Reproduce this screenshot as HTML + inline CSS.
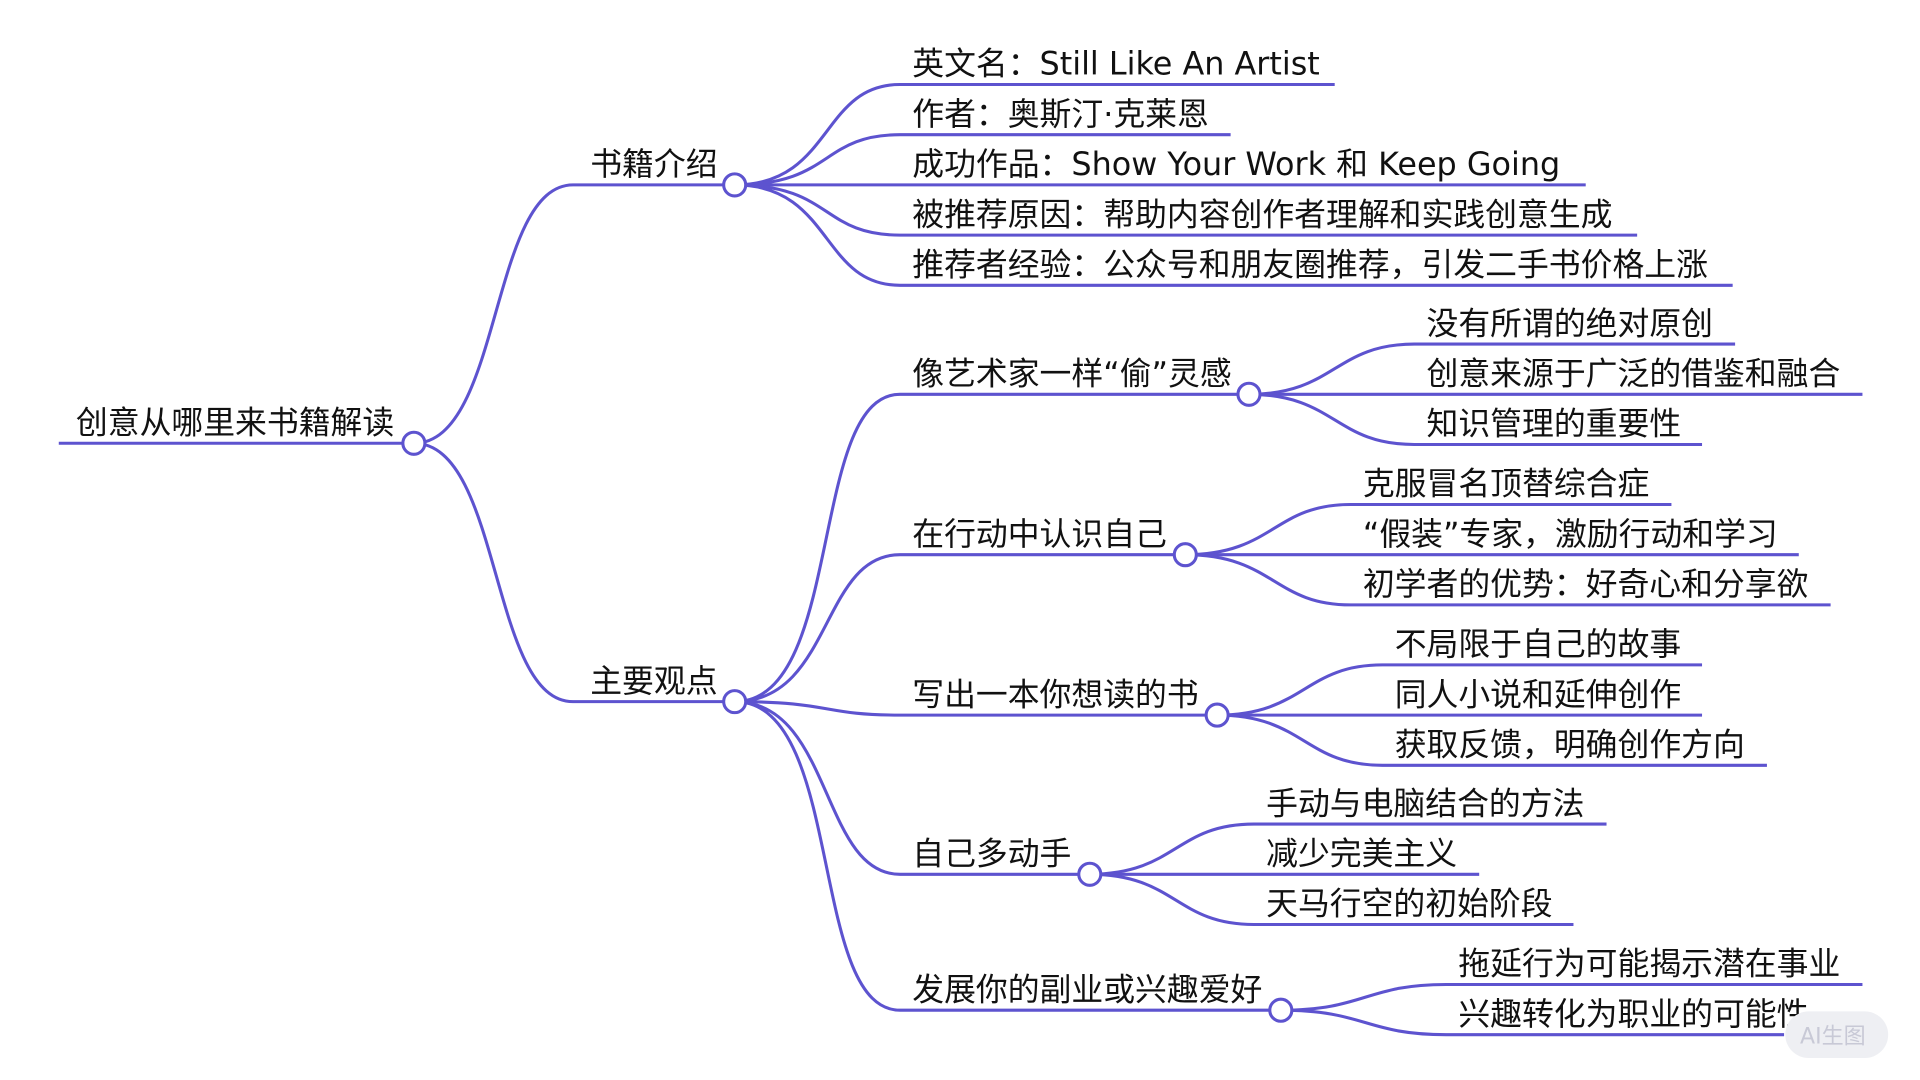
<!DOCTYPE html>
<html><head><meta charset="utf-8"><style>
html,body{margin:0;padding:0;background:#fff;width:1920px;height:1080px;overflow:hidden}
svg{display:block}
text{font-family:"DejaVu Sans","Noto Sans CJK SC",sans-serif;font-size:26px;fill:#111}
</style></head><body>
<svg width="1920" height="1080" viewBox="0 0 1568 882" preserveAspectRatio="none">
<g fill="none" stroke="#5d53cf" stroke-width="2.5">
<path d="M48,362 H338"/>
<path d="M338,362 C410,362 400,151 468,151 H600"/>
<path d="M338,362 C410,362 400,573 468,573 H600"/>
<path d="M600,151 C680,151 670,69 735,69 H1090"/>
<path d="M600,151 C680,151 670,110 735,110 H1005"/>
<path d="M600,151 H1295"/>
<path d="M600,151 C680,151 670,192 735,192 H1337"/>
<path d="M600,151 C680,151 670,233 735,233 H1415"/>
<path d="M600,573 C690,573 660,322 735,322 H1020"/>
<path d="M600,573 C680,573 670,453 735,453 H968"/>
<path d="M600,573 C680,573 670,584 735,584 H994"/>
<path d="M600,573 C680,573 670,714 735,714 H890"/>
<path d="M600,573 C690,573 660,825 735,825 H1046"/>
<path d="M1020,322 C1090,322 1090,281 1155,281 H1417"/>
<path d="M1020,322 H1521"/>
<path d="M1020,322 C1090,322 1090,363 1155,363 H1390"/>
<path d="M968,453 C1040,453 1040,412 1103,412 H1365"/>
<path d="M968,453 H1469"/>
<path d="M968,453 C1040,453 1040,494 1103,494 H1495"/>
<path d="M994,584 C1065,584 1065,543 1129,543 H1390"/>
<path d="M994,584 H1390"/>
<path d="M994,584 C1065,584 1065,625 1129,625 H1443"/>
<path d="M890,714 C960,714 960,673 1024,673 H1312"/>
<path d="M890,714 H1208"/>
<path d="M890,714 C960,714 960,755 1024,755 H1285"/>
<path d="M1046,825 C1115,825 1115,804 1181,804 H1521"/>
<path d="M1046,825 C1115,825 1115,845 1181,845 H1457"/>
</g>
<g fill="#fff" stroke="#5d53cf" stroke-width="2.5">
<circle cx="338" cy="362" r="9"/>
<circle cx="600" cy="151" r="9"/>
<circle cx="600" cy="573" r="9"/>
<circle cx="1020" cy="322" r="9"/>
<circle cx="968" cy="453" r="9"/>
<circle cx="994" cy="584" r="9"/>
<circle cx="890" cy="714" r="9"/>
<circle cx="1046" cy="825" r="9"/>
</g>
<text x="62" y="354">创意从哪里来书籍解读</text>
<text x="482" y="143">书籍介绍</text>
<text x="482" y="565">主要观点</text>
<text x="745" y="61">英文名：Still Like An Artist</text>
<text x="745" y="102">作者：奥斯汀·克莱恩</text>
<text x="745" y="143">成功作品：Show Your Work 和 Keep Going</text>
<text x="745" y="184">被推荐原因：帮助内容创作者理解和实践创意生成</text>
<text x="745" y="225">推荐者经验：公众号和朋友圈推荐，引发二手书价格上涨</text>
<text x="745" y="314">像艺术家一样“偷”灵感</text>
<text x="745" y="445">在行动中认识自己</text>
<text x="745" y="576">写出一本你想读的书</text>
<text x="745" y="706">自己多动手</text>
<text x="745" y="817">发展你的副业或兴趣爱好</text>
<text x="1165" y="273">没有所谓的绝对原创</text>
<text x="1165" y="314">创意来源于广泛的借鉴和融合</text>
<text x="1165" y="355">知识管理的重要性</text>
<text x="1113" y="404">克服冒名顶替综合症</text>
<text x="1113" y="445">“假装”专家，激励行动和学习</text>
<text x="1113" y="486">初学者的优势：好奇心和分享欲</text>
<text x="1139" y="535">不局限于自己的故事</text>
<text x="1139" y="576">同人小说和延伸创作</text>
<text x="1139" y="617">获取反馈，明确创作方向</text>
<text x="1034" y="665">手动与电脑结合的方法</text>
<text x="1034" y="706">减少完美主义</text>
<text x="1034" y="747">天马行空的初始阶段</text>
<text x="1191" y="796">拖延行为可能揭示潜在事业</text>
<text x="1191" y="837">兴趣转化为职业的可能性</text>
<rect x="1458" y="826" width="84" height="38" rx="19" fill="#eeeff3"/>
<text x="1470" y="852" style="font-size:18px;fill:#c8c9d6">AI生图</text>
</svg>
</body></html>
